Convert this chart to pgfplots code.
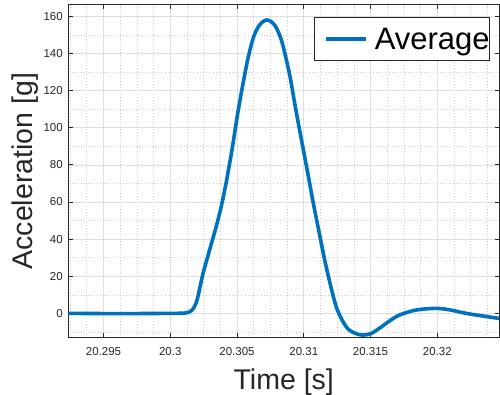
\documentclass[border=0pt]{standalone}
\usepackage{fontspec}
\setmainfont{Liberation Sans}
\usepackage{pgfplots}
\pgfplotsset{compat=1.18}
\definecolor{mblue}{HTML}{0072BD}
\definecolor{axgray}{HTML}{262626}
\definecolor{gridmaj}{HTML}{DFDFDF}
\definecolor{gridmin}{HTML}{CACACA}
\begin{document}
\begin{tikzpicture}
\begin{axis}[
  scale only axis,
  width=430.5pt, height=333pt,
  xmin=20.29238, xmax=20.32462,
  ymin=-13.1, ymax=166.25,
  xtick={20.295,20.3,20.305,20.31,20.315,20.32},
  xticklabels={20.295,20.3,20.305,20.31,20.315,20.32},
  minor xtick={20.2925,20.29375,20.29625,20.2975,20.29875,20.30125,20.3025,20.30375,20.30625,20.3075,20.30875,20.31125,20.3125,20.31375,20.31625,20.3175,20.31875,20.32125,20.3225,20.32375},
  ytick={0,20,40,60,80,100,120,140,160},
  minor ytick={-10,10,30,50,70,90,110,130,150},
  grid=both,
  major grid style={color=gridmaj, line width=0.6pt},
  minor grid style={color=gridmin, line width=0.6pt, dash pattern=on 0.8pt off 2.4pt},
  axis line style={color=axgray, line width=0.8pt},
  tick pos=both, tick align=inside,
  xticklabel pos=lower, yticklabel pos=left,
  major tick length=4.5pt, minor tick length=0pt,
  every tick/.style={color=axgray, line width=0.8pt},
  /pgf/number format/assume math mode=true,
  tick label style={font=\fontsize{11.5}{12}\selectfont, color=axgray},
  xticklabel style={yshift=-6.3pt},
  yticklabel style={xshift=-2.2pt},
  xlabel={Time [s]},
  ylabel={Acceleration [g]},
  label style={font=\fontsize{28.5}{30}\selectfont, color=axgray},
  xlabel style={at={(axis description cs:0.5,-0.157)}, anchor=base},
  ylabel style={at={(axis description cs:-0.0825,0.5)}, anchor=base, rotate=0},
  legend style={at={(rel axis cs:1,1)}, xshift=-9pt, yshift=-12.6pt, anchor=north east,
    draw=axgray, line width=0.7pt, fill=white, inner xsep=0pt, inner ysep=4pt,
    font=\fontsize{31}{31}\selectfont,
    nodes={inner sep=0pt, text height=28pt, text depth=6.5pt}},
  legend image code/.code={\path (0pt,0pt) (57pt,0pt); \draw[#1] (10pt,0pt) -- (50pt,0pt);},
  clip=true,
]
\addplot[color=mblue, line width=3.6pt, smooth, tension=0.5] coordinates {
(20.29238,0) (20.2950,-0.1) (20.2975,-0.1) (20.3000,0) (20.30100,0.1) (20.30120,0.3)
(20.30144,0.8) (20.30169,2.2) (20.30190,5) (20.30207,9) (20.30244,21) (20.30294,34)
(20.30344,46.7) (20.30382,57.6) (20.30419,70.5) (20.30444,80.5) (20.30469,91)
(20.30506,108) (20.30543,123) (20.30581,137) (20.30618,147.5) (20.30645,152.5)
(20.30668,155.2) (20.30695,157.2) (20.30719,158) (20.30750,157.4) (20.30785,155)
(20.30818,150) (20.30843,144.5) (20.30893,129) (20.30930,114) (20.30968,99)
(20.31030,75.5) (20.31067,61) (20.31118,42.5)
(20.31168,25) (20.31243,3.6) (20.31317,-7.2) (20.31380,-10.6) (20.31442,-11.7)
(20.31505,-10.8) (20.31567,-8) (20.31640,-4.2) (20.31716,-0.9) (20.31841,1.8)
(20.31991,2.7) (20.32100,1.8) (20.32216,0) (20.32340,-1.4) (20.32462,-2.7)
};
\addlegendentry{Average}
\end{axis}
\pgfresetboundingbox
\path (-68.5pt,-57.3pt) rectangle (431.5pt,337.7pt);
\end{tikzpicture}
\end{document}
